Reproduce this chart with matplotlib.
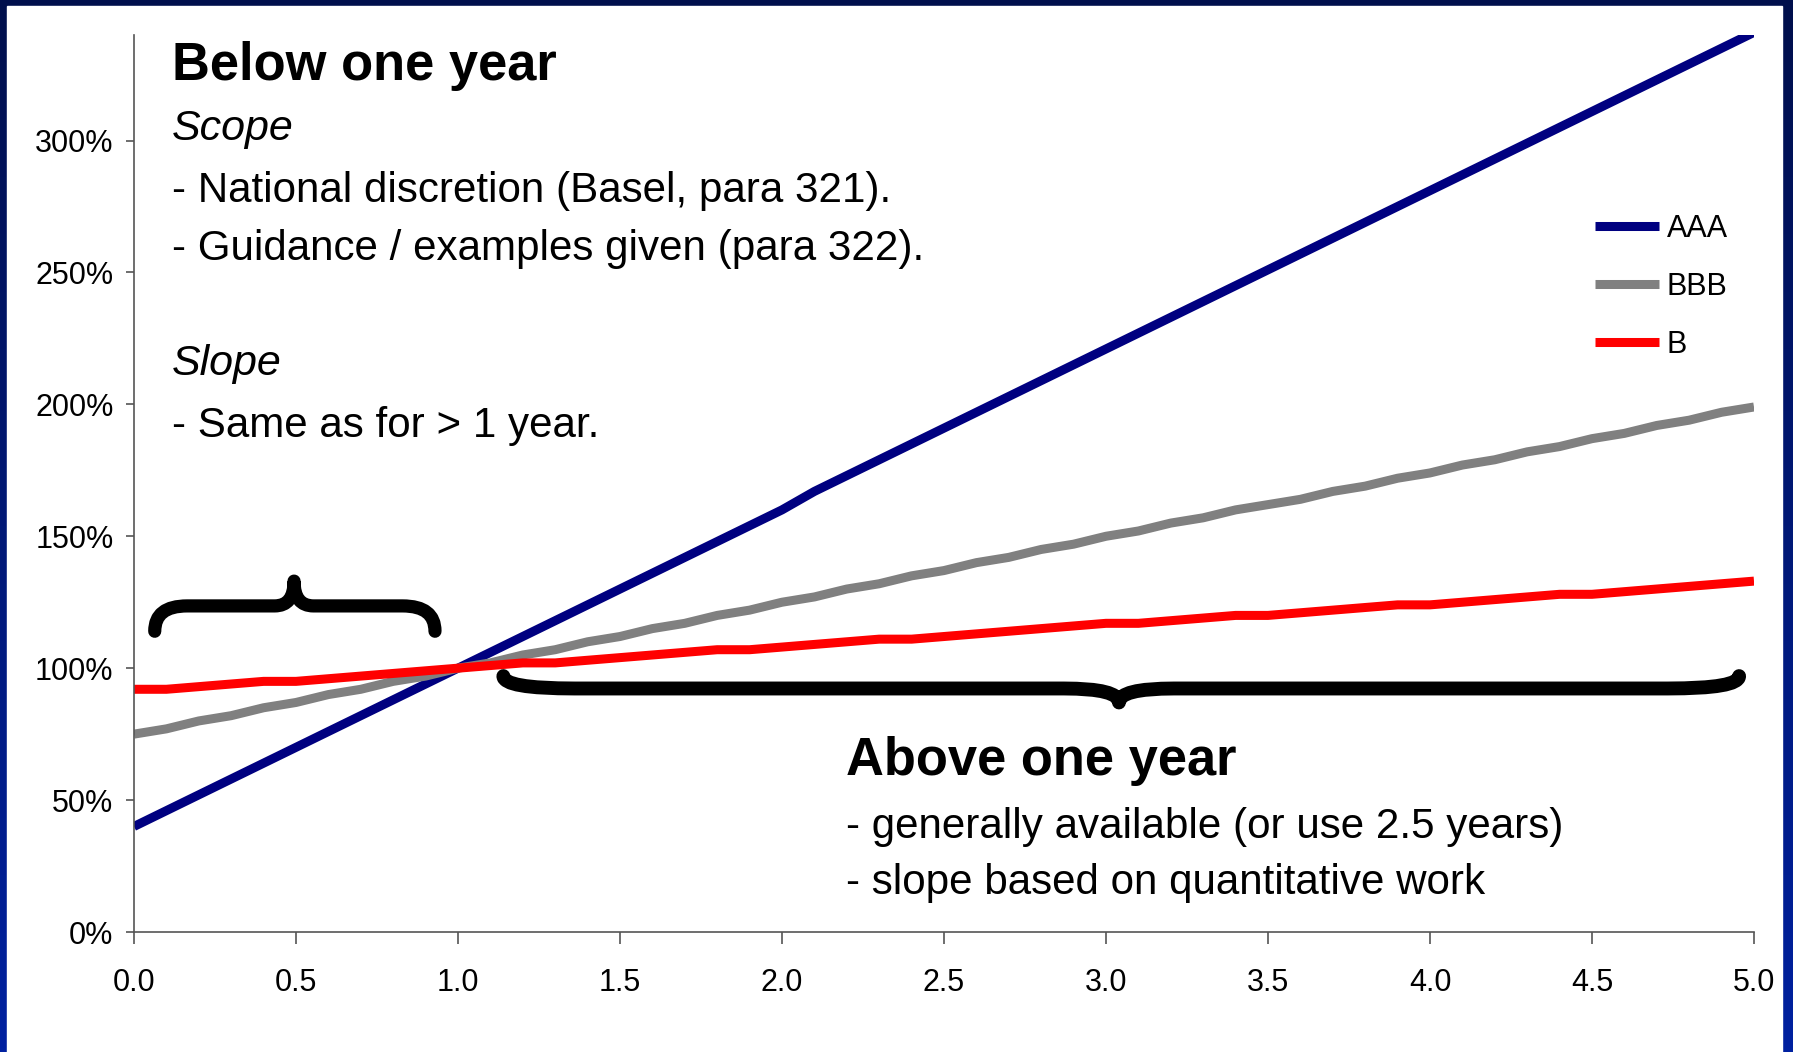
import numpy as np
import matplotlib
matplotlib.use("Agg")
import matplotlib.pyplot as plt
from matplotlib.path import Path
from matplotlib.patches import PathPatch, Rectangle
from matplotlib.colors import LinearSegmentedColormap
from matplotlib.ticker import FuncFormatter, MultipleLocator

plt.rcParams['font.family'] = ['Liberation Sans', 'DejaVu Sans']

# maturity in years, 0.0 .. 5.0 in steps of 0.1
maturity = np.arange(51) / 10

# maturity adjustment (1.0 = 100%)
aaa = [0.40, 0.46, 0.52, 0.58, 0.64, 0.70, 0.76, 0.82, 0.88, 0.94,
       1.00, 1.06, 1.12, 1.18, 1.24, 1.30, 1.36, 1.42, 1.48, 1.54,
       1.60, 1.67, 1.73, 1.79, 1.85, 1.91, 1.97, 2.03, 2.09, 2.15,
       2.21, 2.27, 2.33, 2.39, 2.45, 2.51, 2.57, 2.63, 2.69, 2.75,
       2.81, 2.87, 2.93, 2.99, 3.05, 3.11, 3.17, 3.23, 3.29, 3.35, 3.41]
bbb = [0.75, 0.77, 0.80, 0.82, 0.85, 0.87, 0.90, 0.92, 0.95, 0.97,
       1.00, 1.02, 1.05, 1.07, 1.10, 1.12, 1.15, 1.17, 1.20, 1.22,
       1.25, 1.27, 1.30, 1.32, 1.35, 1.37, 1.40, 1.42, 1.45, 1.47,
       1.50, 1.52, 1.55, 1.57, 1.60, 1.62, 1.64, 1.67, 1.69, 1.72,
       1.74, 1.77, 1.79, 1.82, 1.84, 1.87, 1.89, 1.92, 1.94, 1.97, 1.99]
b_grade = [0.92, 0.92, 0.93, 0.94, 0.95, 0.95, 0.96, 0.97, 0.98, 0.99,
           1.00, 1.01, 1.02, 1.02, 1.03, 1.04, 1.05, 1.06, 1.07, 1.07,
           1.08, 1.09, 1.10, 1.11, 1.11, 1.12, 1.13, 1.14, 1.15, 1.16,
           1.17, 1.17, 1.18, 1.19, 1.20, 1.20, 1.21, 1.22, 1.23, 1.24,
           1.24, 1.25, 1.26, 1.27, 1.28, 1.28, 1.29, 1.30, 1.31, 1.32, 1.33]

series = [("AAA", aaa, "#000080"), ("BBB", bbb, "#808080"), ("B", b_grade, "#ff0000")]

W, H = 1793, 1052
fig = plt.figure(figsize=(W / 100, H / 100), dpi=100)

# dark blue slide frame
bg = fig.add_axes([0, 0, 1, 1], zorder=0)
cmap = LinearSegmentedColormap.from_list("frame", ["#000f4c", "#0021a0"])
bg.imshow(np.linspace(0, 1, 256).reshape(-1, 1), aspect="auto", cmap=cmap,
          extent=[0, 1, 0, 1], origin="upper")
bg.add_patch(Rectangle((7 / W, 0), (1782 - 7) / W, (H - 6) / H,
                       color="white", transform=bg.transAxes))
bg.set_xlim(0, 1)
bg.set_ylim(0, 1)
bg.axis("off")

ax = fig.add_axes([134 / W, 120 / H, (1754 - 134) / W, (932 - 35) / H], zorder=1)
ax.set_facecolor("none")

for name, vals, col in series:
    ax.plot(maturity, vals, color=col, lw=6.5, label=name, solid_capstyle="butt")

ax.set_xlim(0, 5)
ax.set_ylim(0, 3.4)
ax.xaxis.set_major_locator(MultipleLocator(0.5))
ax.xaxis.set_major_formatter(FuncFormatter(lambda v, p: f"{v:.1f}"))
ax.yaxis.set_major_formatter(FuncFormatter(lambda v, p: f"{v * 100:.0f}%"))
ax.set_yticks(np.arange(0, 3.01, 0.5))
for s in ["top", "right"]:
    ax.spines[s].set_visible(False)
for s in ["left", "bottom"]:
    ax.spines[s].set_color("#555555")
    ax.spines[s].set_linewidth(1.2)
ax.tick_params(axis="y", direction="out", length=5.8, width=1.2, color="#555555",
               pad=9, labelsize=22)
ax.tick_params(axis="x", direction="out", length=8.6, width=1.2, color="#555555",
               pad=17, labelsize=22)

leg = ax.legend(frameon=False, fontsize=22, handlelength=2.1, handletextpad=0.25,
                labelspacing=0.92, borderpad=0, borderaxespad=0, loc="center left",
                bbox_to_anchor=(1595 / W, 1 - 287 / H), bbox_transform=fig.transFigure)


def brace(ax, x0, x1, xm, y_end, y_bar, y_tip, dx_end, dx_tip, lw):
    verts = [(x0, y_end), (x0, y_bar), (x0 + dx_end, y_bar),
             (xm - dx_tip, y_bar), (xm, y_bar), (xm, y_tip),
             (xm, y_bar), (xm + dx_tip, y_bar),
             (x1 - dx_end, y_bar), (x1, y_bar), (x1, y_end)]
    codes = [Path.MOVETO, Path.CURVE3, Path.CURVE3,
             Path.LINETO, Path.CURVE3, Path.CURVE3,
             Path.CURVE3, Path.CURVE3,
             Path.LINETO, Path.CURVE3, Path.CURVE3]
    ax.add_patch(PathPatch(Path(verts, codes), fill=False, lw=lw, color="black",
                           capstyle="round", joinstyle="round", zorder=5, clip_on=False))


# braces marking the two maturity ranges
brace(ax, 0.064, 0.929, 0.494, 1.14, 1.236, 1.33, 0.1, 0.06, 9.5)
brace(ax, 1.14, 4.954, 3.04, 0.97, 0.923, 0.87, 0.22, 0.17, 10)

tx = 171.5 / W
fig.text(tx, 1 - 80 / H, "Below one year", fontsize=37.8, weight="bold", va="baseline")
fig.text(tx, 1 - 139.5 / H, "Scope", fontsize=31, style="italic", va="baseline")
fig.text(tx, 1 - 202 / H, "- National discretion (Basel, para 321).", fontsize=30.3, va="baseline")
fig.text(tx, 1 - 260 / H, "- Guidance / examples given (para 322).", fontsize=30.3, va="baseline")
fig.text(tx, 1 - 375 / H, "Slope", fontsize=31, style="italic", va="baseline")
fig.text(tx, 1 - 437 / H, "- Same as for > 1 year.", fontsize=30.3, va="baseline")

tx2 = 846 / W
fig.text(tx2, 1 - 775 / H, "Above one year", fontsize=37.8, weight="bold", va="baseline")
fig.text(tx2, 1 - 838 / H, "- generally available (or use 2.5 years)", fontsize=30.3, va="baseline")
fig.text(tx2, 1 - 894 / H, "- slope based on quantitative work", fontsize=30.3, va="baseline")

fig.savefig("out.png", dpi=100)
